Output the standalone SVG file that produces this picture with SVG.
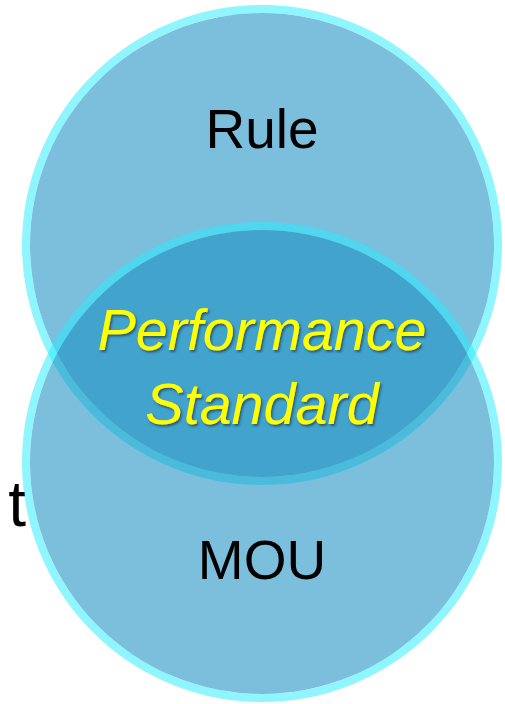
<svg xmlns="http://www.w3.org/2000/svg" width="505" height="704" viewBox="0 0 505 704">
  <defs>
    <filter id="txtShadow" x="-10%" y="-20%" width="120%" height="140%">
      <feDropShadow dx="1.5" dy="2" stdDeviation="1" flood-color="#1a3a4a" flood-opacity="0.7"/>
    </filter>
    <style>
      .fill { fill: rgb(23,142,193); fill-opacity: 0.57; }
      .ring { fill: none; stroke: rgb(40,235,255); stroke-opacity: 0.52; stroke-width: 8; }
      .label { font-family: "Liberation Sans", Arial, sans-serif; font-size: 55px; fill: #000; text-anchor: middle; }
      .center { font-family: "Liberation Sans", Arial, sans-serif; font-size: 57.5px; font-style: italic; fill: #FFFF00; text-anchor: middle; filter: url(#txtShadow); }
    </style>
  </defs>
  <rect width="505" height="704" fill="#FFFFFF"/>
  <text x="26" y="526" class="label" style="text-anchor:end;font-size:64px">t</text>
  <g id="rule">
    <circle class="fill" cx="262" cy="245" r="232"/>
    <circle class="ring" cx="262" cy="245" r="236"/>
    <text x="262" y="148" class="label">Rule</text>
  </g>
  <g id="mou">
    <circle class="fill" cx="262" cy="462" r="232"/>
    <circle class="ring" cx="262" cy="462" r="236"/>
    <text x="262" y="579" class="label">MOU</text>
  </g>
  <g id="performance-standard">
    <text x="262" y="350" class="center">Performance</text>
    <text x="262" y="424" class="center">Standard</text>
  </g>
  <g id="connectors"/>
</svg>
